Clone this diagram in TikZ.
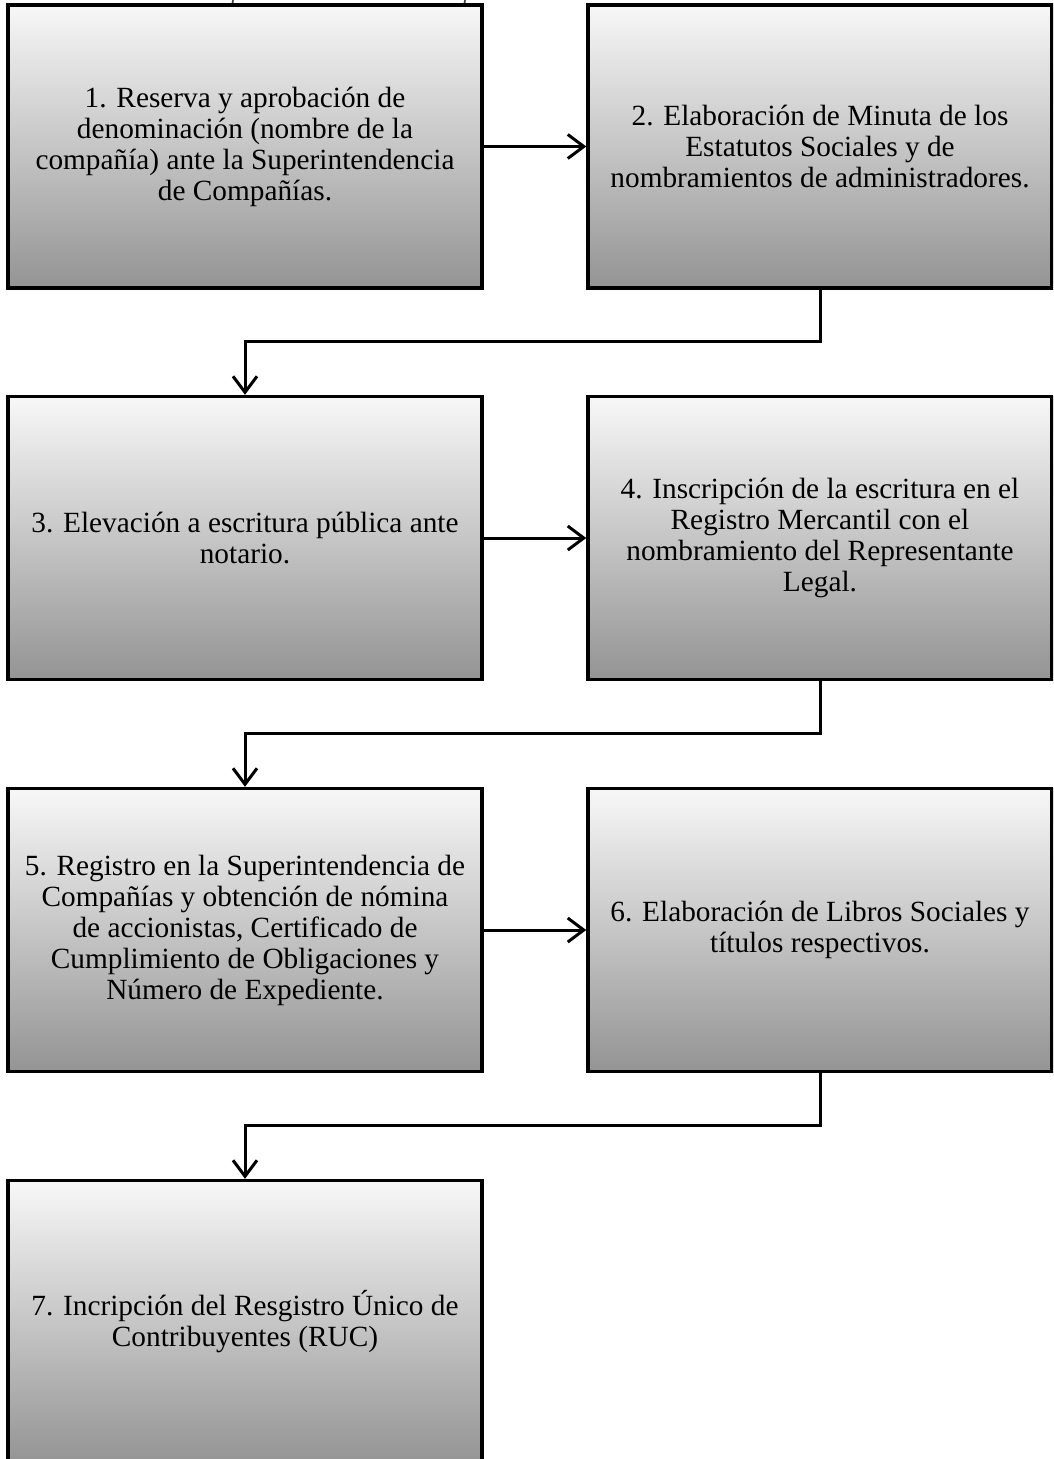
\documentclass[tikz,border=0pt]{standalone}
\usepackage{fontspec}
\setmainfont{Liberation Serif}
\usetikzlibrary{arrows.meta}
\begin{document}
\begin{tikzpicture}[x=1pt,y=1pt,
  stepbox/.style={draw=black, line width=3.5pt, top color=white!97!black, bottom color=black!42,
    minimum width=474pt, minimum height=283pt, inner sep=0pt, align=center,
    font=\fontsize{29.3}{31}\selectfont},
  conn/.style={line width=3pt, -{Straight Barb[length=16pt,width=24pt,line width=3pt]}},
  elbow/.style={line width=3pt, -{Straight Barb[length=16pt,width=24pt,line width=3pt]}}]
\useasboundingbox (0,0) rectangle (1053,-1459);
\clip (0,0) rectangle (1053,-1459);
\node[anchor=base west, inner sep=0pt, font=\fontsize{23}{26}\selectfont\itshape, text=black!75] (cap) at (10,1) {Ilustración 1 – Proceso para Constituir una Compañía Anónima};
\node[stepbox] (b1) at (245,-146.5) {1. Reserva y aprobación de\\denominación (nombre de la\\compañía) ante la Superintendencia\\de Compañías.};
\node[stepbox, minimum width=464pt] (b2) at (820,-146.5) {2. Elaboración de Minuta de los\\Estatutos Sociales y de\\nombramientos de administradores.};
\node[stepbox] (b3) at (245,-538) {3. Elevación a escritura pública ante\\notario.};
\node[stepbox, minimum width=464pt] (b4) at (820,-538) {4. Inscripción de la escritura en el\\Registro Mercantil con el\\nombramiento del Representante\\Legal.};
\node[stepbox] (b5) at (245,-930) {5. Registro en la Superintendencia de\\Compañías y obtención de nómina\\de accionistas, Certificado de\\Cumplimiento de Obligaciones y\\Número de Expediente.};
\node[stepbox, minimum width=464pt] (b6) at (820,-930) {6. Elaboración de Libros Sociales y\\títulos respectivos.};
\node[stepbox] (b7) at (245,-1322) {7. Incripción del Resgistro Único de\\Contribuyentes (RUC)};
\draw[conn] (b1.east) -- (b2.west);
\draw[conn] (b3.east) -- (b4.west);
\draw[conn] (b5.east) -- (b6.west);
\draw[elbow] (b2.south) -- ++(0,-52) -| (b3.north);
\draw[elbow] (b4.south) -- ++(0,-52) -| (b5.north);
\draw[elbow] (b6.south) -- ++(0,-52) -| (b7.north);
\end{tikzpicture}
\end{document}
